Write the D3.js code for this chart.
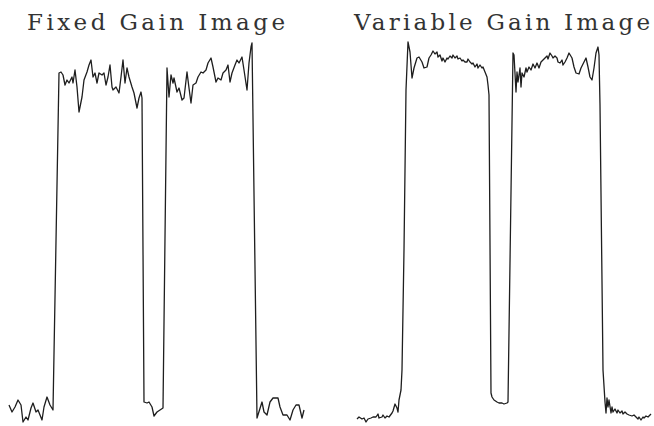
<!DOCTYPE html>
<html lang="en">
  <head>
    <meta charset="UTF-8" />
    <title>Fixed vs Variable Gain</title>
    <script src="https://d3js.org/d3.v7.min.js" charset="utf-8"></script>
    <style>
      body { margin: 0; background: #fff; }
    </style>
  </head>
  <body>
    <div id="chart"></div>
    <script>
      // panel titles
      const titles = ["Fixed Gain Image", "Variable Gain Image"];

      // scan line through the fixed gain image: position along scan, intensity (0-100)
      const fixedPos = [0, 3, 6, 9, 12, 14, 17, 19, 22, 24, 27, 29, 33, 35, 38, 41, 44,
        50, 52, 54, 56, 58, 60, 63, 64, 66, 68, 70, 73, 75, 78, 80, 82, 84, 86, 88, 90,
        93, 95, 97, 99, 101, 103, 104, 107, 110, 112, 114, 116, 118, 120, 123, 125, 128,
        130, 132, 133,
        135, 138, 140, 143, 145, 148, 151, 154,
        158, 160, 162, 164, 165, 168, 170, 173, 175, 178, 180, 182, 184, 187, 189, 192,
        194, 197, 199, 202, 204, 207, 209, 212, 214, 217, 219, 221, 223, 226, 228, 230,
        233, 235, 238, 240, 242, 243,
        248, 253, 255, 258, 261, 264, 269, 271, 274, 278, 281, 284, 287, 290, 293, 295];
      const fixedVal = [5.75, 4, 5.25, 7, 5.75, 1.5, 2.75, 2, 5, 6.25, 4, 4.5, 2, 5.25, 7.75, 5.75, 4.5,
        88.75, 89, 88.25, 85.75, 87, 86.25, 87.75, 86.25, 89.5, 85.25, 79, 82.75, 87, 89, 90.75, 92, 87.75, 88.75, 86.25, 88.75,
        88.25, 88.75, 85.75, 87.75, 90.75, 85.25, 84.5, 85.25, 83.75, 87.75, 92, 86.25, 90, 87.75, 85.25, 83.75, 80,
        82.5, 84, 82.5,
        6.5, 6.25, 6.5, 5.25, 3, 4, 4.5, 5,
        90, 82.75, 88.25, 86.25, 87.5, 84, 85, 82, 82.5, 89, 85, 81.25, 85.75, 86.25, 87.75, 89,
        88.75, 89.5, 91.25, 92.5, 90.25, 86.5, 87.5, 87, 88.75, 89.5, 90.75, 86.5, 88.75, 90.75, 92, 91.25,
        92.75, 89.5, 84.5, 91.25, 95.25, 96.25,
        2.5, 6.5, 4, 3.25, 6.5, 7.5, 7.5, 5.25, 3.25, 3.25, 2, 4.5, 5.75, 5.75, 2.5, 4.5];

      // same scan line through the variable gain image
      const variablePos = [0, 2, 5, 7, 9, 11, 14, 16, 19, 21, 22, 25, 26, 28, 30, 32, 35, 36, 38, 40, 41, 42,
        44, 45, 47, 49, 51, 53, 55, 57, 60, 62, 65, 67, 70, 72, 74, 76, 78, 80, 81, 83, 85, 86, 88,
        90, 91, 93, 95, 96, 98, 100, 101, 103, 105, 106, 108, 110, 111, 113, 115, 116, 118, 120, 121,
        123, 125, 126, 128, 130, 131, 132,
        134, 135, 137, 140, 142, 145, 147, 150, 151,
        156, 157, 159, 160, 161, 163, 164, 165, 167, 169, 170, 172, 174, 176, 178, 180, 182, 184, 186,
        188, 190, 191, 193, 195, 196, 198, 200, 201, 203, 205, 206, 208, 210, 212, 215, 217, 219, 222,
        224, 227, 229, 231, 233, 235, 237, 239, 241, 242, 243,
        246, 248, 249, 250, 251, 252, 254, 255, 256, 258, 260, 261, 263, 265, 266, 268, 270, 272, 275,
        277, 279, 281, 282, 284, 286, 287, 289, 291, 294];
      const variableVal = [2.25, 2.75, 2.25, 2.5, 1.5, 2.25, 2.5, 2.75, 2.75, 3.5, 2.5, 2.75, 3.25, 2.5, 3, 2.75, 3.75, 4.25, 6, 5, 4, 7,
        9.5, 14.5, 44.5, 84.5, 96.5, 94, 87.5, 90, 92.5, 92.75, 91.5, 90, 90.25, 92.5, 93.25, 94.25, 93.5, 94, 92.75, 93.25, 91.75, 92.5, 91.5,
        92.5, 92.25, 93, 92.5, 93.25, 92.5, 93, 92.25, 92.5, 91.75, 92, 91.5, 91.5, 92.25, 91.5, 91, 91.25, 90.25, 91, 90,
        90.75, 90, 90.25, 89, 87.75, 85.75, 83.25,
        8.75, 7.75, 7, 6.5, 6.25, 6.25, 6, 6.25, 6.5,
        93.75, 93.25, 84, 89, 86.5, 90, 85.25, 88.75, 87.75, 90, 89, 90.25, 89.5, 91, 90, 91.25, 90, 91.5, 92,
        92.5, 93, 92.25, 93.75, 93, 92.5, 93, 92.5, 91.5, 91.25, 92, 90.75, 91.5, 92.5, 93.75, 92.5, 90.25, 88.75, 88.5,
        90, 91.5, 92.5, 90.25, 87.75, 87, 90, 93.75, 95.25, 93.25, 80.75,
        14.5, 6.5, 3.75, 7.5, 5.25, 7, 3.75, 5.25, 4, 4.75, 3.75, 4.5, 3.75, 4.25, 3.5, 4, 3.5, 3.25, 3,
        3.25, 2.75, 2.25, 2.75, 2, 2.75, 2.5, 3, 2.75, 3.5];

      const width = 654;
      const height = 426;

      const svg = d3
        .select("#chart")
        .append("svg")
        .attr("width", width)
        .attr("height", height);

      const y = d3.scaleLinear().domain([0, 100]).range([428, 28]);

      const panels = [
        { title: titles[0], pos: fixedPos, val: fixedVal, x0: 9, tx: [27, 285] },
        { title: titles[1], pos: variablePos, val: variableVal, x0: 357, tx: [354, 650] }
      ];

      panels.forEach(p => {
        const x = d3.scaleLinear().domain([0, 296]).range([p.x0, p.x0 + 296]);
        const line = d3
          .line()
          .x(i => x(p.pos[i]))
          .y(i => y(p.val[i]));

        svg.append("path")
          .datum(d3.range(p.pos.length))
          .attr("d", line)
          .attr("fill", "none")
          .attr("stroke", "#1e1e1e")
          .attr("stroke-width", 1.3)
          .attr("stroke-linejoin", "round");

        svg.append("text")
          .attr("x", p.tx[0])
          .attr("y", 30)
          .attr("textLength", p.tx[1] - p.tx[0])
          .attr("lengthAdjust", "spacing")
          .style("font-family", "'DejaVu Serif', serif")
          .style("font-size", "23px")
          .style("fill", "#333")
          .text(p.title);
      });
    </script>
  </body>
</html>
